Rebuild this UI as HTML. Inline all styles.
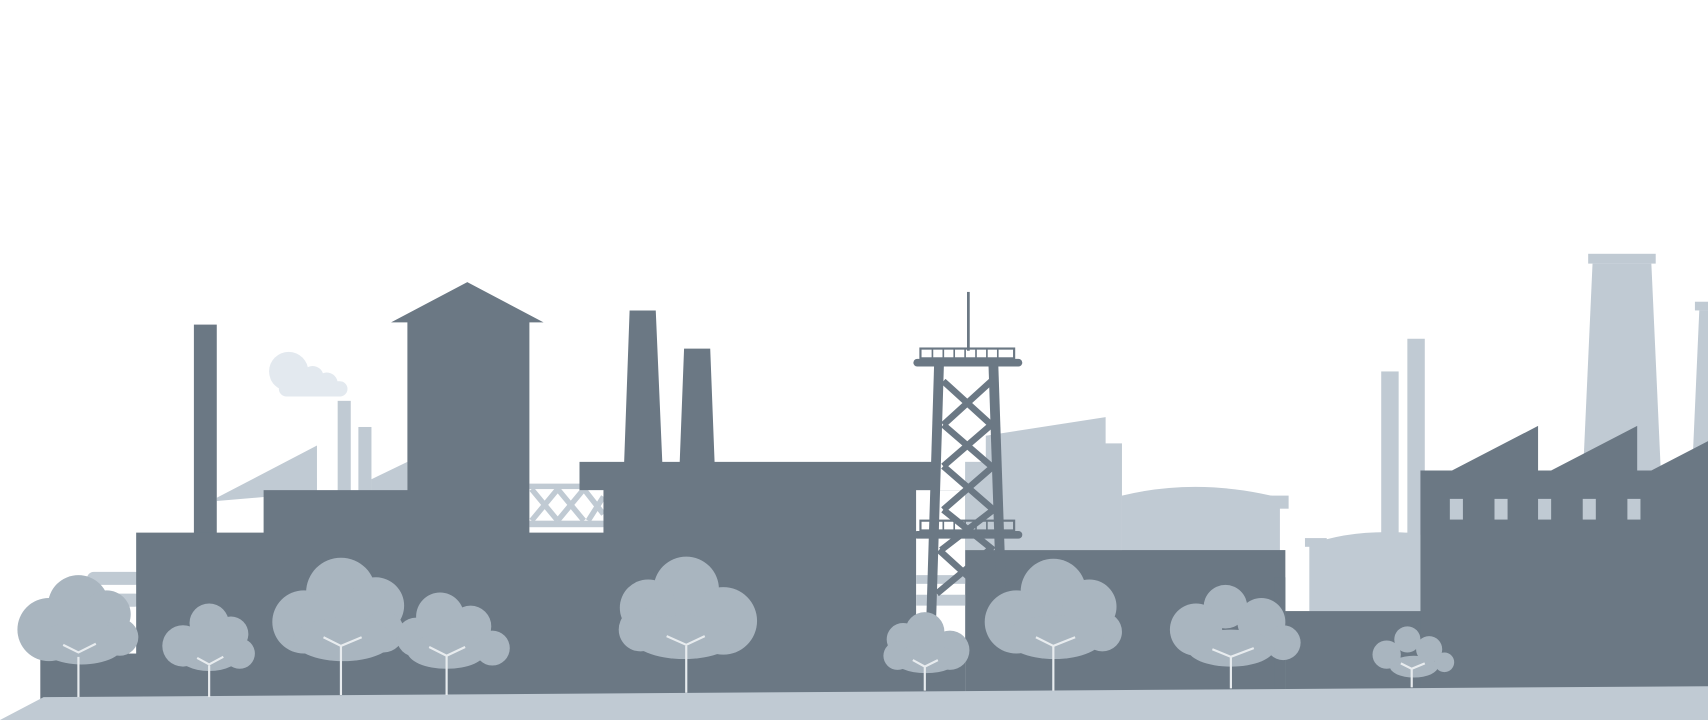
<!DOCTYPE html>
<html><head><meta charset="utf-8"><style>
html,body{margin:0;padding:0;background:#fff;width:1708px;height:720px;overflow:hidden}
svg{display:block}
</style></head><body>
<svg width="1708" height="720" viewBox="0 0 1568 661" preserveAspectRatio="none" xmlns="http://www.w3.org/2000/svg">
<g fill="#c0cad3">
  <polygon points="199,457 291,409 291,452 199,460"/>
  <rect x="310" y="368" width="12" height="84"/>
  <rect x="329" y="392" width="12" height="60"/>
  <polygon points="341,440 374,424 374,452 341,452"/>
  <rect x="486" y="444" width="68" height="5"/>
  <rect x="486" y="478" width="68" height="6"/>
  <path d="M488,449 L512,478 M512,449 L488,478 M512,449 L536,478 M536,449 L512,478 M536,449 L554,472 M554,456 L540,478" stroke="#c0cad3" stroke-width="5" fill="none"/>
  <polygon points="905,400 1015,383 1015,407 1030,407 1030,505 905,505"/>
  <rect x="886" y="424" width="20" height="81"/>
  <path d="M1030,455 Q1100,438 1175,457 L1175,560 L1030,560 Z"/>
  <rect x="1150" y="455" width="33" height="12"/>
  <path d="M1202,500 Q1240,486 1290,489 L1304,489 L1304,561 L1202,561 Z"/>
  <rect x="1198" y="494" width="20" height="8"/>
  <rect x="1268" y="341" width="16" height="150"/>
  <rect x="1292" y="311" width="16" height="180"/>
  <rect x="1458" y="233" width="62" height="9"/>
  <polygon points="1462,242 1516,242 1525,440 1453,440"/>
  <rect x="1556" y="277" width="12" height="8"/>
  <polygon points="1560,285 1568,285 1568,420 1554,420"/>
  <rect x="80" y="525" width="50" height="12" rx="6"/>
  <rect x="90" y="545" width="40" height="12" rx="6"/>
</g>
<g fill="#e3e9ef">
  <circle cx="265" cy="341" r="18"/><circle cx="287" cy="346" r="10"/><circle cx="300" cy="352" r="10"/><circle cx="312" cy="357" r="7"/>
  <rect x="256" y="350" width="62" height="14" rx="7"/>
</g>
<g fill="#6b7884">
  <rect x="37" y="600" width="100" height="42"/>
  <rect x="178" y="298" width="21" height="195"/>
  <polygon points="125,489 242,489 242,450 374,450 374,296 359,296 429,259 499,296 486,296 486,489 554,489 554,450 532,450 532,424 573,424 578,285 602,285 608,424 624,424 628,320 652,320 656,424 862,424 862,450 886,450 886,642 125,642"/>
  <rect x="886" y="505" width="294" height="137"/>
  <rect x="1170" y="530" width="10" height="112"/>
  <rect x="1180" y="561" width="130" height="81"/>
  <polygon points="1304,432 1333,432 1412,391 1412,432 1424,432 1503,391 1503,432 1516,432 1568,405 1568,642 1304,642"/>
</g>
<g fill="#c0cad3">
  <rect x="1331" y="458" width="12" height="19"/><rect x="1372" y="458" width="12" height="19"/><rect x="1412" y="458" width="12" height="19"/><rect x="1453" y="458" width="12" height="19"/><rect x="1494" y="458" width="12" height="19"/>
</g>
<rect x="841" y="450" width="45" height="140" fill="#fff"/>
<rect x="841" y="528" width="45" height="8" fill="#c0cad3"/>
<rect x="841" y="546" width="45" height="10" fill="#c0cad3"/>
<g stroke="#6b7884" fill="none">
  <line x1="889" y1="268" x2="889" y2="322" stroke-width="2.5"/>
  <rect x="845" y="320" width="86" height="9" stroke-width="2"/>
  <path d="M856,320v9 M866,320v9 M876,320v9 M886,320v9 M896,320v9 M906,320v9 M916,320v9" stroke-width="1.5"/>
  <line x1="842" y1="333" x2="935" y2="333" stroke-width="7" stroke-linecap="round"/>
  <line x1="862" y1="336" x2="853" y2="630" stroke-width="9"/>
  <line x1="912" y1="336" x2="922" y2="630" stroke-width="9"/>
  <path d="M866,350 L910,390 M910,350 L866,390 M866,390 L910,428 M910,390 L866,428 M866,428 L912,468 M912,428 L866,468 M866,468 L912,505 M864,505 L912,468 M862,505 L906,545 M908,505 L860,545" stroke-width="6"/>
  <rect x="845" y="478" width="86" height="9" stroke-width="2"/>
  <path d="M856,478v9 M866,478v9 M876,478v9 M886,478v9 M896,478v9 M906,478v9 M916,478v9" stroke-width="1.5"/>
  <line x1="842" y1="491" x2="935" y2="491" stroke-width="7" stroke-linecap="round"/>
</g>
<polygon points="40,640 1568,630 1568,661 0,661" fill="#c0cad3"/>
<g fill="#a9b5bf">
  <g><circle cx="72" cy="556" r="28"/><circle cx="45" cy="578" r="29"/><circle cx="98" cy="564" r="22"/><circle cx="110" cy="585" r="17"/><ellipse cx="75" cy="590" rx="40" ry="20"/></g>
  <g><circle cx="192" cy="572" r="18"/><circle cx="168" cy="593" r="19"/><circle cx="212" cy="582" r="16"/><circle cx="220" cy="600" r="14"/><ellipse cx="192" cy="602" rx="28" ry="14"/></g>
  <g><circle cx="313" cy="544" r="32"/><circle cx="279" cy="571" r="29"/><circle cx="345" cy="556" r="26"/><circle cx="352" cy="580" r="19"/><ellipse cx="315" cy="587" rx="46" ry="20"/></g>
  <g><circle cx="404" cy="566" r="22"/><circle cx="382" cy="585" r="18"/><circle cx="432" cy="575" r="19"/><circle cx="452" cy="595" r="16"/><ellipse cx="410" cy="598" rx="36" ry="16"/></g>
  <g><circle cx="630" cy="541" r="30"/><circle cx="595" cy="558" r="26"/><circle cx="664" cy="570" r="31"/><circle cx="588" cy="578" r="20"/><ellipse cx="628" cy="585" rx="48" ry="20"/></g>
  <g><circle cx="849" cy="580" r="18"/><circle cx="829" cy="587" r="15"/><circle cx="872" cy="597" r="18"/><circle cx="824" cy="602" r="13"/><ellipse cx="850" cy="605" rx="30" ry="13"/></g>
  <g><circle cx="967" cy="543" r="30"/><circle cx="933" cy="571" r="29"/><circle cx="1000" cy="557" r="25"/><circle cx="1012" cy="580" r="18"/><ellipse cx="968" cy="585" rx="45" ry="20"/></g>
  <g><circle cx="1125" cy="557" r="20"/><circle cx="1098" cy="578" r="24"/><circle cx="1158" cy="571" r="22"/><circle cx="1178" cy="590" r="16"/><ellipse cx="1130" cy="595" rx="40" ry="17"/></g>
  <g><circle cx="1292" cy="587" r="12"/><circle cx="1273" cy="601" r="13"/><circle cx="1312" cy="596" r="12"/><circle cx="1326" cy="608" r="9"/><ellipse cx="1298" cy="612" rx="22" ry="10"/></g>
</g>
<g stroke="#e8ecef" stroke-width="2" fill="none">
  <path d="M72,640 V603 M58,592 L72,599 L88,591"/>
  <path d="M192,640 V611 M181,604 L192,610 L205,603"/>
  <path d="M313,638 V593 M297,585 L313,593 L332,585"/>
  <path d="M410,638 V602 M394,594 L410,602 L427,594"/>
  <path d="M630,636 V593 M612,584 L630,592 L647,584"/>
  <path d="M849,634 V612 M838,606 L849,612 L861,606"/>
  <path d="M967,634 V593 M951,585 L967,593 L987,585"/>
  <path d="M1130,632 V603 M1113,596 L1130,603 L1151,595"/>
  <path d="M1296,631 V614 M1286,609 L1296,614 L1308,609"/>
</g>
</svg>
</body></html>
